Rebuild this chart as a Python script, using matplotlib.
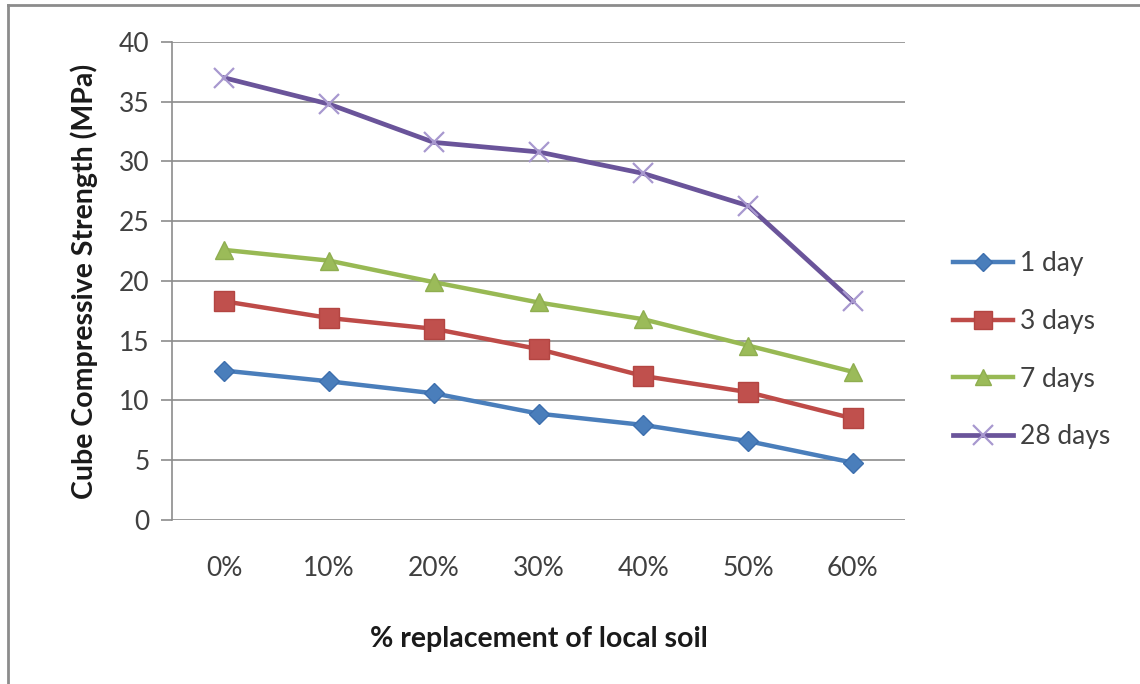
import matplotlib
matplotlib.use("Agg")
import matplotlib.pyplot as plt
from matplotlib.lines import Line2D

plt.rcParams['font.family'] = ['Lato', 'DejaVu Sans']

categories = ['0%', '10%', '20%', '30%', '40%', '50%', '60%']
day1 = [12.5, 11.6, 10.6, 8.9, 7.95, 6.6, 4.8]
day3 = [18.3, 16.9, 16.0, 14.3, 12.05, 10.7, 8.5]
day7 = [22.6, 21.7, 19.9, 18.2, 16.8, 14.6, 12.4]
day28 = [37.0, 34.8, 31.6, 30.8, 29.0, 26.3, 18.3]
yticks = [0, 5, 10, 15, 20, 25, 30, 35, 40]

fig = plt.figure(figsize=(11.4, 6.84), dpi=100)
fig.patch.set_facecolor('white')
ax = fig.add_axes([0.1509, 0.2398, 0.6430, 0.6988])

x = list(range(len(categories)))

ax.plot(x, day1, color='#4a7ebb', lw=3.2, marker='D', ms=10,
        mfc='#4a7ebb', mec='#3d6fae', label='1 day', zorder=3)
ax.plot(x, day3, color='#be4b48', lw=3.2, marker='s', ms=14,
        mfc='#c0504d', mec='#b34542', label='3 days', zorder=3)
ax.plot(x, day7, color='#98b954', lw=3.2, marker='^', ms=13,
        mfc='#9bbb59', mec='#8fae50', label='7 days', zorder=3)
ax.plot(x, day28, color='#6a549a', lw=3.4, marker='x', ms=15, mew=1.6,
        mec='#a898cf', label='28 days', zorder=3)

ax.set_xlim(-0.5, len(categories) - 0.5)
ax.set_ylim(0, 40)
ax.set_yticks(yticks)
ax.set_xticks(x)
ax.set_xticklabels(categories)
ax.yaxis.grid(True, color='#8c8c8c', lw=1.2)
ax.set_axisbelow(True)

for s in ['top', 'right', 'bottom']:
    ax.spines[s].set_visible(False)
ax.spines['left'].set_color('#8c8c8c')
ax.spines['left'].set_linewidth(1.2)

ax.tick_params(axis='y', length=8, width=1.2, color='#8c8c8c',
               labelsize=19, labelcolor='#404040', pad=8)
ax.tick_params(axis='x', length=0, labelsize=19, labelcolor='#404040', pad=26)

ax.set_ylabel('Cube Compressive Strength (MPa)', fontsize=20.5,
              fontweight='bold', color='#1a1a1a', labelpad=15)
ax.set_xlabel('% replacement of local soil', fontsize=20.5,
              fontweight='bold', color='#1a1a1a', labelpad=32)

handles = [
    Line2D([], [], color='#4a7ebb', lw=3.2, marker='D', ms=9, mfc='#4a7ebb', mec='#3d6fae'),
    Line2D([], [], color='#be4b48', lw=3.2, marker='s', ms=13, mfc='#c0504d', mec='#b34542'),
    Line2D([], [], color='#98b954', lw=3.2, marker='^', ms=12, mfc='#9bbb59', mec='#8fae50'),
    Line2D([], [], color='#6a549a', lw=3.4, marker='x', ms=14, mew=1.6, mec='#a898cf'),
]
leg = fig.legend(handles, ['1 day', '3 days', '7 days', '28 days'],
                 loc='center left', bbox_to_anchor=(0.824, 0.488),
                 frameon=False, fontsize=19, handlelength=2.3,
                 handletextpad=0.25, labelspacing=1.24, borderpad=0)
for t in leg.get_texts():
    t.set_color('#404040')

# outer chart border on the top and left edges
fig.add_artist(Line2D([8 / 1140, 8 / 1140], [0, 1 - 5 / 684],
                      transform=fig.transFigure, color='#8c8c8c', lw=2))
fig.add_artist(Line2D([8 / 1140, 1], [1 - 5 / 684, 1 - 5 / 684],
                      transform=fig.transFigure, color='#8c8c8c', lw=2))

fig.savefig('out.png', dpi=100)
